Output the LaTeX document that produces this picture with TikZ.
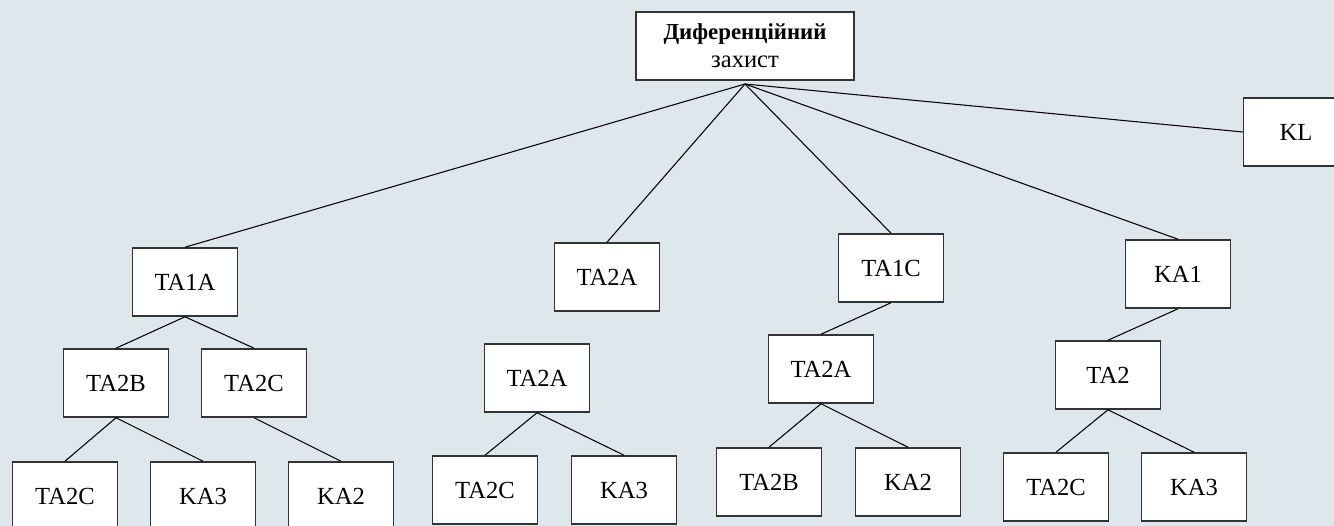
\documentclass[tikz,border=0pt]{standalone}
\usepackage{fontspec}
\setmainfont{Liberation Serif}
\definecolor{bgblue}{RGB}{221,231,236}
\tikzset{
  blk/.style={draw=black!80, line width=0.9pt, fill=white, minimum width=2.1cm,
    minimum height=1.36cm, inner sep=0pt, align=center,
    font=\fontsize{14}{16}\selectfont},
  lnk/.style={line width=0.6pt}
}
\begin{document}
\begin{tikzpicture}[x=0.02cm, y=-0.02cm]
      \fill[bgblue] (0, 0) rectangle (1334, 526);
      \useasboundingbox (0, 0) rectangle (1334, 526);
      % root and the hub below it
      \node[blk, minimum width=4.36cm] (dz) at (745, 46)
        {{\fontsize{13}{15}\selectfont\textbf{Диференційний}}\\захист};
      \coordinate (hub) at (745, 84);
      \node[blk] (kl) at (1296, 132) {KL};
      % second level
      \node[blk] (ta1a) at (185, 282) {TA1A};
      \node[blk] (ta2a) at (607, 277) {TA2A};
      \node[blk] (ta1c) at (891, 268) {TA1C};
      \node[blk] (ka1) at (1178, 274) {KA1};
      % third level
      \node[blk] (ta2b) at (116, 383) {TA2B};
      \node[blk] (ta2c) at (254, 383) {TA2C};
      \node[blk] (mta2a) at (537, 378) {TA2A};
      \node[blk] (rta2a) at (821, 369) {TA2A};
      \node[blk] (ta2) at (1108, 375) {TA2};
      % bottom row
      \foreach \n/\x/\y/\t in {ata2c/65/496/TA2C, aka3/203/496/KA3, aka2/341/496/KA2,
          bta2c/485/490/TA2C, bka3/624/490/KA3,
          cta2b/769/482/TA2B, cka2/908/482/KA2,
          dta2c/1056/487/TA2C, dka3/1194/487/KA3}{
        \node[blk] (\n) at (\x, \y) {\t};
      }
      \foreach \n in {ta1a, ta2a, ta1c, ka1}{
        \draw[lnk] (hub) -- (\n.north);
      }
      \draw[lnk] (hub) -- (kl.west);
      \foreach \p/\c in {ta1a/ta2b, ta1a/ta2c, ta2b/ata2c, ta2b/aka3, ta2c/aka2,
          mta2a/bta2c, mta2a/bka3, ta1c/rta2a, rta2a/cta2b, rta2a/cka2,
          ka1/ta2, ta2/dta2c, ta2/dka3}{
        \draw[lnk] (\p.south) -- (\c.north);
      }
    \end{tikzpicture}
\end{document}
